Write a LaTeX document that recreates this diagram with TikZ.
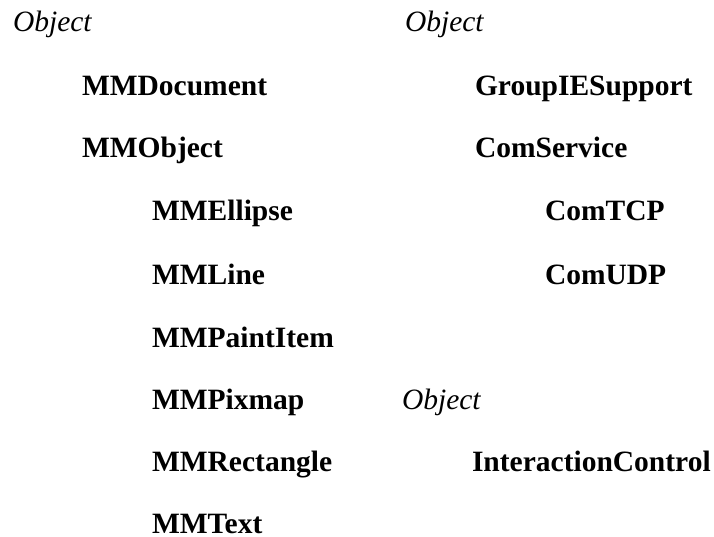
\documentclass[tikz,border=0pt]{standalone}
\usepackage{fontspec}
\setmainfont{Liberation Serif}
\begin{document}
\begin{tikzpicture}[x=1pt,y=-1pt,
  lbl/.style={anchor=base west,inner sep=0pt,outer sep=0pt,font=\fontsize{29.5}{35}\selectfont},
  cls/.style={lbl,font=\fontsize{29.5}{35}\selectfont\bfseries},
  root/.style={lbl,font=\fontsize{29.5}{35}\selectfont\itshape}]
\useasboundingbox (0,0) rectangle (714,537);
% left tree
\node[root] (objA) at (13,32) {Object};
\node[cls] (mmdoc) at (82,96) {MMDocument};
\node[cls] (mmobj) at (82,158) {MMObject};
\node[cls] (mmell) at (152,221) {MMEllipse};
\node[cls] (mmline) at (152,284) {MMLine};
\node[cls] (mmpaint) at (152,347) {MMPaintItem};
\node[cls] (mmpix) at (152,409) {MMPixmap};
\node[cls] (mmrect) at (152,471) {MMRectangle};
\node[cls] (mmtext) at (152,533) {MMText};
% right tree
\node[root] (objB) at (405,32) {Object};
\node[cls] (group) at (475,96) {GroupIESupport};
\node[cls] (comsvc) at (475,158) {ComService};
\node[cls] (comtcp) at (545,221) {ComTCP};
\node[cls] (comudp) at (545,284) {ComUDP};
% bottom right tree
\node[root] (objC) at (402,409) {Object};
\node[cls] (interact) at (472,471) {InteractionControl};
\end{tikzpicture}
\end{document}
